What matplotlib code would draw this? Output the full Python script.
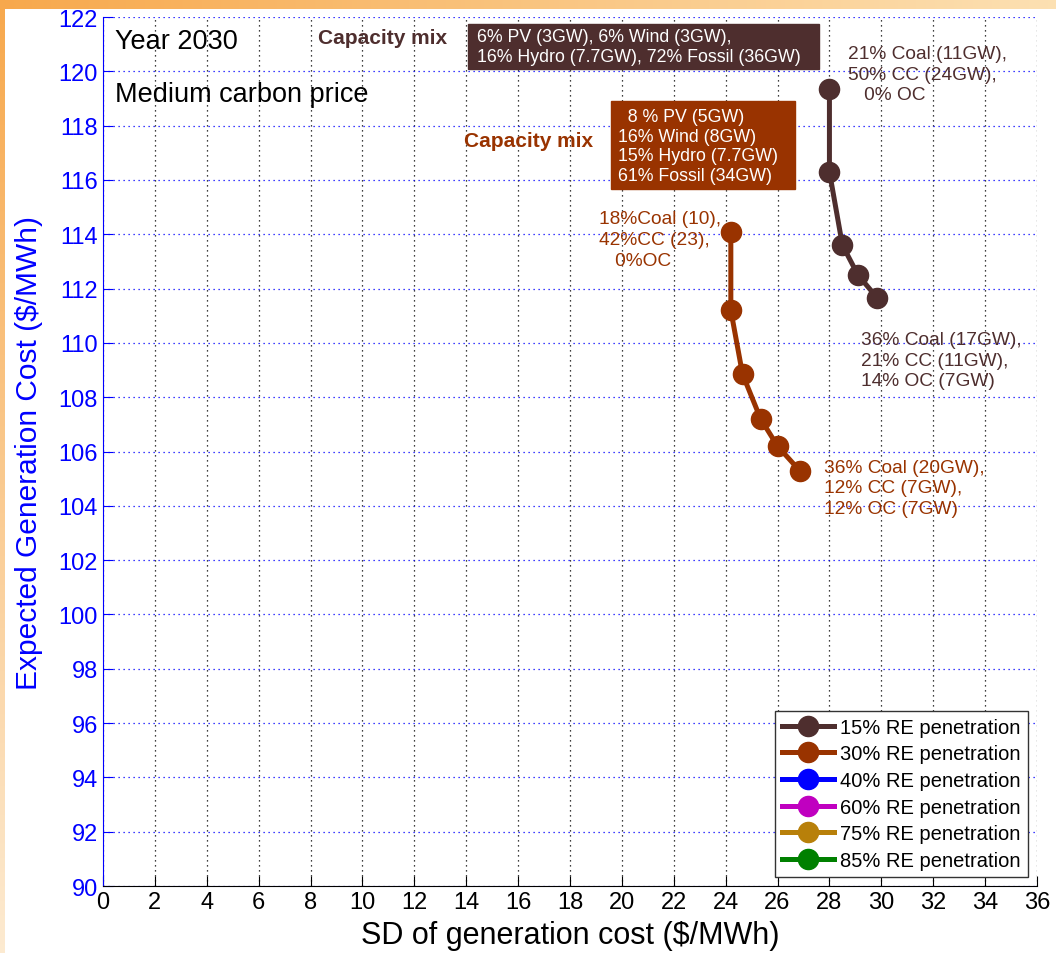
import numpy as np
import matplotlib.pyplot as plt
from matplotlib.patches import Rectangle

plt.rcParams['font.family'] = ['Liberation Sans', 'DejaVu Sans']

# --- data ---
sd_15 = [28.0, 28.0, 28.5, 29.1, 29.85]
cost_15 = [119.35, 116.3, 113.6, 112.5, 111.65]

sd_30 = [24.2, 24.2, 24.65, 25.35, 26.0, 26.85]
cost_30 = [114.1, 111.2, 108.85, 107.2, 106.2, 105.3]

# series that appear only in the legend
sd_40, cost_40 = [], []
sd_60, cost_60 = [], []
sd_75, cost_75 = [], []
sd_85, cost_85 = [], []

labels = ['15% RE penetration', '30% RE penetration', '40% RE penetration',
          '60% RE penetration', '75% RE penetration', '85% RE penetration']
colors = ['#4e2e2e', '#993300', '#0000ff', '#c000c0', '#b8800a', '#008000']

xticks = np.arange(0, 37, 2)
yticks = np.arange(90, 123, 2)

fig = plt.figure(figsize=(10.56, 9.54), dpi=100)

# orange gradient frame (slide background)
bg = fig.add_axes([0, 0, 1, 1], zorder=-10)
H, W = 954, 1056
img = np.ones((H, W, 3))
t = np.linspace(0, 1, W)
top = np.stack([0.97 + 0.02 * t, 0.66 + 0.22 * t, 0.30 + 0.40 * t], axis=1)
img[:10, :, :] = top[None, :, :]
v = np.linspace(0, 1, H)
left = np.stack([0.97 + 0.02 * v, 0.66 + 0.26 * v, 0.30 + 0.52 * v], axis=1)
img[:, :5, :] = left[:, None, :]
bg.imshow(img, aspect='auto', interpolation='bilinear')
bg.axis('off')

ax = fig.add_axes([0.0975, 0.0702, 0.8845, 0.9109])

series = [(sd_15, cost_15), (sd_30, cost_30), (sd_40, cost_40),
          (sd_60, cost_60), (sd_75, cost_75), (sd_85, cost_85)]
for (xs, ys), lab, c in zip(series, labels, colors):
    ax.plot(xs, ys, '-o', color=c, lw=3.6, ms=14.5, label=lab, zorder=5)

ax.set_xlim(0, 36)
ax.set_ylim(90, 122)
ax.set_xticks(xticks)
ax.set_yticks(yticks)
ax.tick_params(axis='both', direction='in', length=7, labelsize=17)
ax.tick_params(axis='y', colors='#0000ff')
ax.spines['left'].set_color('#0000ff')
ax.spines['top'].set_visible(False)
ax.spines['right'].set_visible(False)
ax.xaxis.grid(True, linestyle=(0, (1, 3)), color='black', lw=0.9)
ax.yaxis.grid(True, linestyle=(0, (1, 3)), color='#0000ff', lw=0.9)
ax.set_axisbelow(True)

ax.set_xlabel('SD of generation cost ($/MWh)', fontsize=22, labelpad=5)
ax.set_ylabel('Expected Generation Cost ($/MWh)', fontsize=21.5, color='#0000ff', labelpad=11)

ax.text(0.45, 121.1, 'Year 2030', fontsize=19.5, va='center')
ax.text(0.45, 119.15, 'Medium carbon price', fontsize=19.5, va='center')

# capacity mix boxes
ax.text(8.3, 121.26, 'Capacity mix', fontsize=15, fontweight='bold',
        color=colors[0], va='center')
ax.add_patch(Rectangle((14.08, 120.09), 13.5, 1.65, color=colors[0], zorder=6))
ax.text(14.4, 120.92, '6% PV (3GW), 6% Wind (3GW),\n16% Hydro (7.7GW), 72% Fossil (36GW)',
        fontsize=12.8, color='white', va='center', linespacing=1.2, zorder=7)

ax.text(13.9, 117.47, 'Capacity mix', fontsize=15, fontweight='bold',
        color=colors[1], va='center')
ax.add_patch(Rectangle((19.59, 115.67), 7.1, 3.24, color=colors[1], zorder=6))
ax.text(19.85, 117.25, '  8 % PV (5GW)\n16% Wind (8GW)\n15% Hydro (7.7GW)\n61% Fossil (34GW)',
        fontsize=12.8, color='white', va='center', linespacing=1.2, zorder=7)

# end point labels
ax.text(28.73, 119.9, '21% Coal (11GW),\n50% CC (24GW),\n   0% OC',
        fontsize=13.8, color=colors[0], va='center', linespacing=1.3)
ax.text(29.2, 109.37, '36% Coal (17GW),\n21% CC (11GW),\n14% OC (7GW)',
        fontsize=13.8, color=colors[0], va='center', linespacing=1.3)
ax.text(19.1, 113.8, '18%Coal (10),\n42%CC (23),\n   0%OC',
        fontsize=13.8, color=colors[1], va='center', linespacing=1.3)
ax.text(27.8, 104.66, '36% Coal (20GW),\n12% CC (7GW),\n12% OC (7GW)',
        fontsize=13.8, color=colors[1], va='center', linespacing=1.3)

leg = ax.legend(loc='lower right', fontsize=14.5, handlelength=2.6, handletextpad=0.3,
                borderpad=0.35, labelspacing=0.38, fancybox=False, framealpha=1,
                edgecolor='#333333', borderaxespad=0.45)
leg.get_frame().set_linewidth(1.0)

fig.savefig('out.png', dpi=100)
